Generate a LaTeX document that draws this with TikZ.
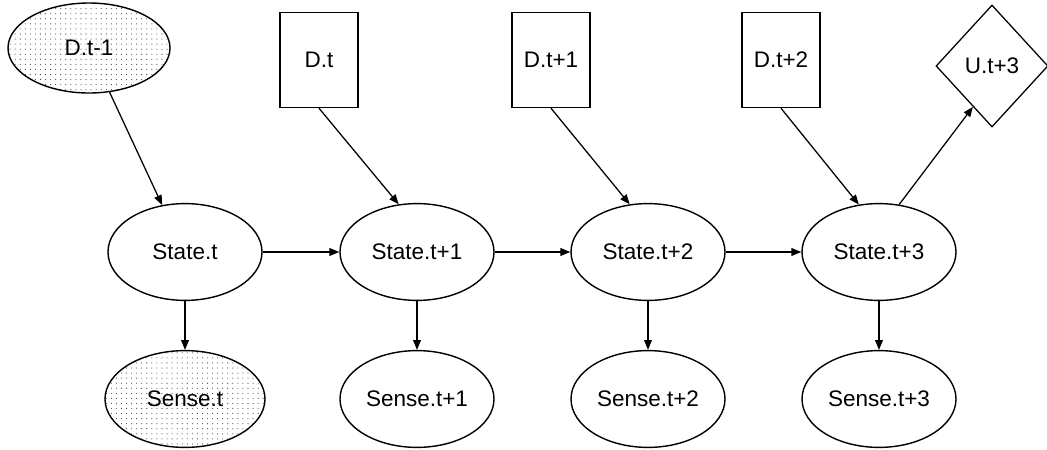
\documentclass[tikz,border=0pt]{standalone}
\usepackage{fontspec}
\setmainfont{Liberation Sans}
\usepackage{tikz}
\usetikzlibrary{shapes.geometric,arrows.meta,patterns.meta}

\begin{document}
\begin{tikzpicture}[
  ell/.style={draw,ellipse,line width=1pt,minimum width=3.85cm,
              minimum height=2.42cm,inner sep=0pt,font=\fontsize{16}{18}\selectfont},
  obs/.style={pattern={Dots[distance=3.6pt,radius=0.4pt]},pattern color=black!75},
  dec/.style={draw,rectangle,line width=0.9pt,minimum width=1.95cm,
              minimum height=2.38cm,inner sep=0pt,font=\fontsize{16}{18}\selectfont},
  util/.style={draw,diamond,line width=0.9pt,minimum width=2.8cm,
               minimum height=3.05cm,inner sep=0pt,font=\fontsize{16}{18}\selectfont},
  arr/.style={-{Triangle[length=7pt,width=5.5pt]},line width=0.9pt},
]
\useasboundingbox (0,0) rectangle (26.175,-11.225);
% decisions and utility
\node[ell,obs,minimum width=4.05cm,minimum height=2.25cm] (dm1) at (2.225,-1.2) {D.t-1};
\node[dec] (d0) at (7.975,-1.5) {D.t};
\node[dec] (d1) at (13.775,-1.5) {D.t+1};
\node[dec] (d2) at (19.525,-1.5) {D.t+2};
\node[util] (u3) at (24.8,-1.65) {U.t+3};
% states
\node[ell] (s0) at (4.625,-6.3) {State.t};
\node[ell] (s1) at (10.425,-6.3) {State.t+1};
\node[ell] (s2) at (16.2,-6.3) {State.t+2};
\node[ell] (s3) at (21.975,-6.3) {State.t+3};
% observations
\node[ell,obs,minimum width=4.0cm] (o0) at (4.625,-9.975) {Sense.t};
\node[ell] (o1) at (10.425,-9.975) {Sense.t+1};
\node[ell] (o2) at (16.2,-9.975) {Sense.t+2};
\node[ell] (o3) at (21.975,-9.975) {Sense.t+3};
\draw[arr] (dm1) -- (s0.116);
\draw[arr] (d0.south) -- (s1.111);
\draw[arr] (d1.south) -- (s2.111);
\draw[arr] (d2.south) -- (s3.113);
\draw[arr] (s3.67) -- (u3.245);
\draw[arr] (s0) -- (s1);
\draw[arr] (s1) -- (s2);
\draw[arr] (s2) -- (s3);
\draw[arr] (s0) -- (o0);
\draw[arr] (s1) -- (o1);
\draw[arr] (s2) -- (o2);
\draw[arr] (s3) -- (o3);
\end{tikzpicture}
\end{document}
